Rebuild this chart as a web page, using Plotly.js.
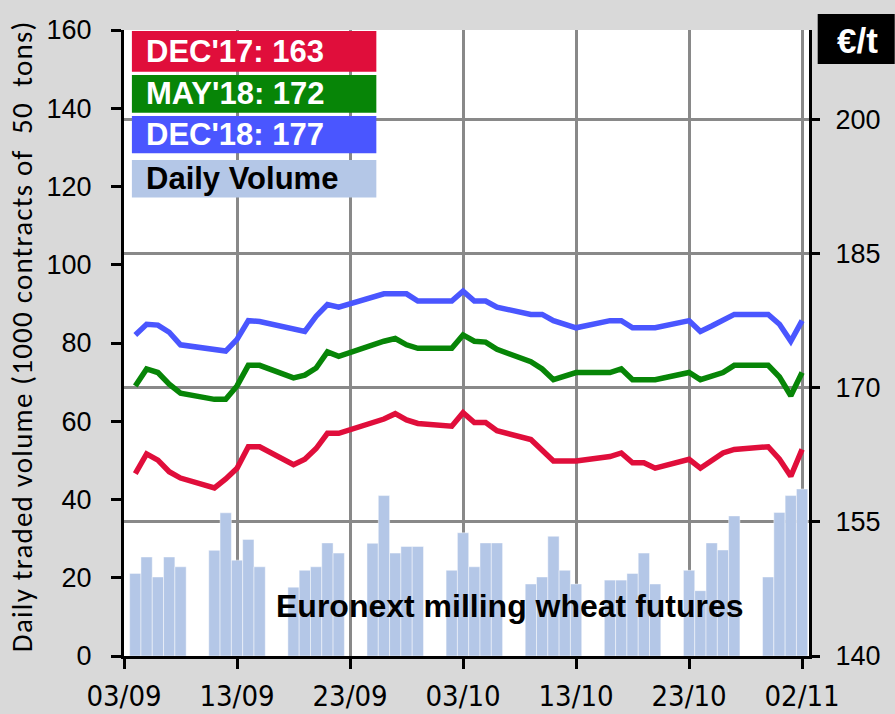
<!DOCTYPE html>
<html>
<head>
<meta charset="utf-8">
<script src="https://cdn.plot.ly/plotly-3.0.1.min.js"></script>
<style>html,body{margin:0;padding:0;background:#d9d9d9;}#chart{width:895px;height:714px;}</style>
</head>
<body>
<div id="chart"></div>
<script>
const dates = ['2017-09-04','2017-09-05','2017-09-06','2017-09-07','2017-09-08',
  '2017-09-11','2017-09-12','2017-09-13','2017-09-14','2017-09-15',
  '2017-09-18','2017-09-19','2017-09-20','2017-09-21','2017-09-22',
  '2017-09-25','2017-09-26','2017-09-27','2017-09-28','2017-09-29',
  '2017-10-02','2017-10-03','2017-10-04','2017-10-05','2017-10-06',
  '2017-10-09','2017-10-10','2017-10-11','2017-10-12','2017-10-13',
  '2017-10-16','2017-10-17','2017-10-18','2017-10-19','2017-10-20',
  '2017-10-23','2017-10-24','2017-10-25','2017-10-26','2017-10-27',
  '2017-10-30','2017-10-31','2017-11-01','2017-11-02'];

const volume = [21.1,25.3,20.2,25.3,22.8, 27.0,36.6,24.5,29.8,22.8,
  17.6,21.9,22.8,28.9,26.3, 28.8,41.0,26.3,28.0,28.0,
  21.9,31.5,22.8,28.9,28.9, 18.4,20.2,30.6,21.9,18.4,
  19.4,19.4,21.1,26.3,18.4, 21.9,16.7,28.9,27.1,35.8,
  20.2,36.7,41.0,42.7];

const dec17 = [160.4,162.6,161.9,160.6,159.9, 158.8,159.8,161.0,163.4,163.4,
  161.4,162.0,163.2,164.9,164.9, 166.1,166.5,167.1,166.4,166.0,
  165.7,167.2,166.1,166.1,165.2, 164.2,163.1,161.8,161.8,161.8,
  162.3,162.7,161.6,161.6,161.0, 162.0,161.0,161.8,162.7,163.1,
  163.4,162.0,160.1,163.1];

const may18 = [170.2,172.1,171.7,170.4,169.4, 168.7,168.7,170.2,172.5,172.5,
  171.1,171.4,172.2,174.0,173.5, 174.8,175.2,175.5,174.8,174.4,
  174.4,175.9,175.2,175.1,174.3, 172.9,172.1,170.9,171.3,171.7,
  171.7,172.1,170.9,170.9,170.9, 171.7,170.9,171.3,171.7,172.5,
  172.5,171.2,169.1,171.7];

const dec18 = [175.9,177.1,177.0,176.2,174.8, 174.3,174.1,175.4,177.5,177.4,
  176.6,176.3,178.0,179.3,179.0, 180.1,180.5,180.5,180.5,179.7,
  179.7,180.8,179.7,179.7,179.0, 178.2,178.2,177.5,177.1,176.7,
  177.5,177.5,176.7,176.7,176.7, 177.5,176.3,176.9,177.5,178.2,
  178.2,177.1,175.2,177.5];

const legendLabels = ["DEC'17: 163", "MAY'18: 172", "DEC'18: 177", "Daily Volume"];
const legendColors = ['#e00e3b', '#078507', '#4a56ff', '#b4c7e7'];
const legendTextColors = ['#ffffff', '#ffffff', '#ffffff', '#000000'];
const leftTitle = 'Daily traded volume (1000 contracts of\u00a0 50\u00a0 tons)';
const rightUnit = '€/t';
const noteText = 'Euronext milling wheat futures';

const DAY = 86400000;
const traces = [
  {type:'bar', x:dates, y:volume, yaxis:'y', width:dates.map(()=>DAY),
   marker:{color:'#b4c7e7', line:{color:'rgba(255,255,255,0.45)', width:1}},
   hoverinfo:'x+y', showlegend:false},
  {type:'scatter', mode:'lines', x:dates, y:dec17, yaxis:'y2',
   line:{color:legendColors[0], width:5.5}, showlegend:false},
  {type:'scatter', mode:'lines', x:dates, y:may18, yaxis:'y2',
   line:{color:legendColors[1], width:5.5}, showlegend:false},
  {type:'scatter', mode:'lines', x:dates, y:dec18, yaxis:'y2',
   line:{color:legendColors[2], width:5.5}, showlegend:false}
];

// plot area in pixels: left 124.4, right 809.3, top 30, bottom 655.7
const L = 124.4, R = 809.3, T = 30, B = 655.7;
const px = x => (x - L) / (R - L);
const py = y => (B - y) / (B - T);

const shapes = [];
const annotations = [];
const boxTops = [31, 75, 116, 160];
const boxBots = [71.7, 112.7, 153.3, 197.3];
for (let i = 0; i < 4; i++) {
  shapes.push({type:'rect', xref:'paper', yref:'paper', x0:px(132.3), x1:px(376.7),
    y0:py(boxBots[i]), y1:py(boxTops[i]), fillcolor:legendColors[i], line:{width:0}, layer:'above'});
  annotations.push({xref:'paper', yref:'paper', x:px(144), y:py((boxTops[i]+boxBots[i])/2),
    xanchor:'left', yanchor:'middle', showarrow:false,
    text:'<b>' + legendLabels[i] + '</b>',
    font:{family:'Liberation Sans, Arial, sans-serif', size:31, color:legendTextColors[i]}});
}
// unit box
shapes.push({type:'rect', xref:'paper', yref:'paper', x0:px(818), x1:px(895),
  y0:py(64), y1:py(14), fillcolor:'#000000', line:{width:0}, layer:'above'});
annotations.push({xref:'paper', yref:'paper', x:px(858), y:py(40), xanchor:'center', yanchor:'middle',
  showarrow:false, text:'<b>' + rightUnit + '</b>',
  font:{family:'Liberation Sans, Arial, sans-serif', size:35, color:'#ffffff'}});
annotations.push({xref:'paper', yref:'paper', x:px(510), y:py(606), xanchor:'center', yanchor:'middle',
  showarrow:false, text:'<b>' + noteText + '</b>',
  font:{family:'Liberation Sans, Arial, sans-serif', size:32, color:'#000000'}});
annotations.push({xref:'paper', yref:'paper', x:px(23), y:py(336), xanchor:'center', yanchor:'middle',
  showarrow:false, textangle:-90, text:leftTitle,
  font:{family:'Carlito, Calibri, Lato, sans-serif', size:29, color:'#000000'}});

const tickFont = {family:'Liberation Sans, Arial, sans-serif', size:27, color:'#000000'};
const layout = {
  width:895, height:714,
  margin:{l:L, r:895-R, t:T, b:714-B, pad:0},
  paper_bgcolor:'#d9d9d9', plot_bgcolor:'#ffffff',
  showlegend:false, bargap:0,
  xaxis:{type:'date', range:['2017-09-03 00:00','2017-11-02 14:40'],
    tick0:'2017-09-03', dtick:10*DAY, tickformat:'%d/%m',
    showgrid:true, gridcolor:'#898989', gridwidth:3,
    showline:true, linecolor:'#000000', linewidth:3,
    ticks:'outside', ticklen:10, tickwidth:3, tickcolor:'#000000',
    ticklabelstandoff:2,
    tickfont:{family:'Liberation Sans Narrow, Arial Narrow, DejaVu Sans Condensed, sans-serif', size:29, color:'#000000'},
    zeroline:false, fixedrange:true},
  yaxis:{range:[0,160], dtick:20, showgrid:false, zeroline:false,
    showline:true, linecolor:'#000000', linewidth:3,
    ticks:'outside', ticklen:10, tickwidth:3, tickcolor:'#000000',
    ticklabelstandoff:14, tickfont:tickFont, fixedrange:true},
  yaxis2:{range:[140,210], dtick:15, tick0:140, overlaying:'y', side:'right',
    showgrid:true, gridcolor:'#898989', gridwidth:3, zeroline:false,
    showline:true, linecolor:'#000000', linewidth:3,
    ticks:'outside', ticklen:8, tickwidth:3, tickcolor:'#000000',
    ticklabelstandoff:10, tickfont:tickFont, fixedrange:true},
  shapes:shapes,
  annotations:annotations
};
Plotly.newPlot('chart', traces, layout, {displayModeBar:false, staticPlot:true}).then(function(gd){
  gd.querySelectorAll('.annotation-text').forEach(function(t){
    if (t.textContent.indexOf('Daily traded') === 0) { t.style.letterSpacing = '1.2px'; }
  });
});
</script>
</body>
</html>
